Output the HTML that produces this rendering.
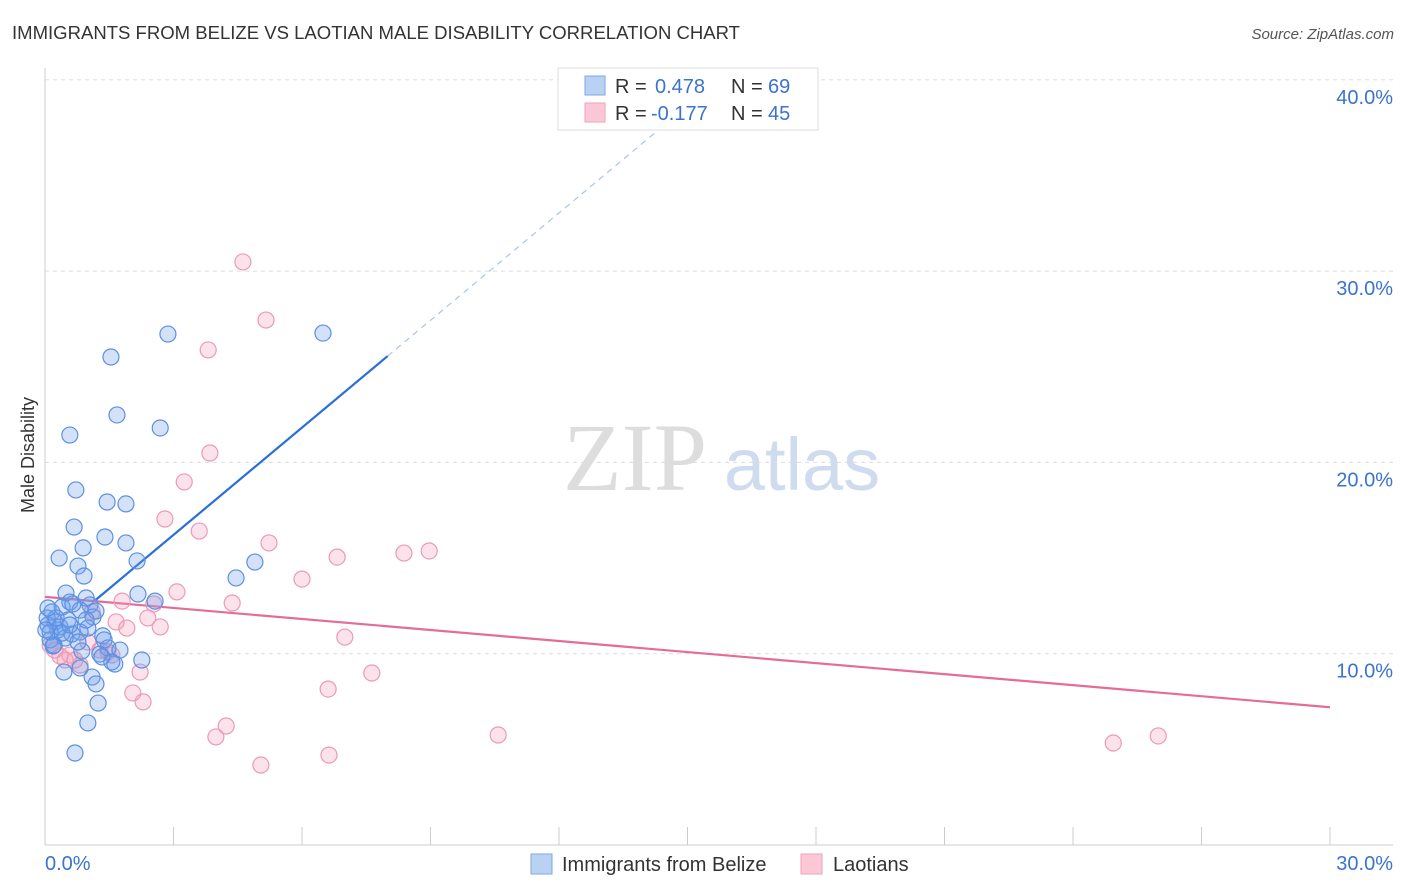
<!DOCTYPE html>
<html><head><meta charset="utf-8"><style>
body{margin:0;background:#fff;font-family:"Liberation Sans",sans-serif;}
svg{display:block}
</style></head><body>
<svg id="chart" width="1406" height="892">
<text x="12" y="39" font-size="18" fill="#333" textLength="728" lengthAdjust="spacingAndGlyphs">IMMIGRANTS FROM BELIZE VS LAOTIAN MALE DISABILITY CORRELATION CHART</text>
<text x="1394" y="39" font-size="15" fill="#555" font-style="italic" text-anchor="end">Source: ZipAtlas.com</text>
<g>
<text x="635" y="490" font-size="96" fill="#ddd" font-family="Liberation Serif,serif" text-anchor="middle">ZIP</text>
<text x="802" y="490" font-size="74" fill="#cfdcf0" text-anchor="middle">atlas</text>
</g>
<g id="grid"></g><g id="axes"></g><g id="lines"></g><g id="pts"></g>
<text transform="translate(34,455) rotate(-90)" font-size="18" fill="#333" text-anchor="middle">Male Disability</text>
<g>
<rect x="558" y="68" width="260" height="62" fill="#fff" stroke="#ddd"/>
<rect x="585" y="76" width="20" height="19" fill="#b9d2f3" stroke="#7ea6e6"/>
<rect x="585" y="103" width="20" height="19" fill="#fcc8d8" stroke="#f0a0bb"/>
<text x="615" y="93" font-size="20" fill="#333">R =</text>
<text x="655" y="93" font-size="20" fill="#3a73d0">0.478</text>
<text x="731" y="93" font-size="20" fill="#333">N =</text>
<text x="768" y="93" font-size="20" fill="#3a73d0">69</text>
<text x="615" y="120" font-size="20" fill="#333">R =</text>
<text x="651" y="120" font-size="20" fill="#3a73d0">-0.177</text>
<text x="731" y="120" font-size="20" fill="#333">N =</text>
<text x="768" y="120" font-size="20" fill="#3a73d0">45</text>
</g>
<g>
<rect x="531" y="854" width="21" height="20" fill="#b9d2f3" stroke="#7ea6e6"/>
<text x="562" y="871" font-size="20" fill="#333">Immigrants from Belize</text>
<rect x="801" y="854" width="21" height="20" fill="#fcc8d8" stroke="#f0a0bb"/>
<text x="833" y="871" font-size="20" fill="#333">Laotians</text>
</g>
</svg>
<script>
const yTicks=[10,20,30,40];
const xTickLabels=["0.0%","30.0%"];
const blueX=[2.87,6.49,1.54,1.68,2.69,0.58,0.72,1.45,1.89,0.68,1.40,1.89,0.89,0.33,2.15,0.77,0.91,4.46,4.90,0.49,2.17,2.57,0.96,0.58,0.40,1.05,0.16,0.82,1.12,0.54,0.23,0.07,0.30,1.00,0.63,0.82,1.35,0.12,0.47,0.21,1.47,1.75,1.28,0.86,2.26,1.63,1.56,0.82,0.44,1.10,1.19,1.24,1.00,0.70,0.05,0.26,1.38,0.35,0.12,0.65,1.19,0.02,0.19,0.40,0.58,0.07,1.33,0.77,0.96];
const blueY=[26.71,26.76,25.51,22.48,21.80,21.43,18.56,17.93,17.83,16.62,16.10,15.79,15.53,15.00,14.85,14.58,14.06,13.96,14.79,13.17,13.12,12.75,12.91,12.70,12.44,12.55,12.18,12.28,11.92,11.76,11.66,11.50,11.24,11.34,11.03,11.13,10.93,10.72,10.82,10.45,10.30,10.19,9.98,10.14,9.67,9.46,9.57,9.25,9.04,8.78,8.42,7.42,6.38,4.81,11.87,11.87,10.72,11.40,11.13,12.60,12.23,11.24,10.40,11.08,11.50,12.39,9.83,10.61,11.76];
const pinkX=[4.62,5.16,3.81,3.85,3.25,2.80,3.60,5.23,6.82,8.38,8.97,6.00,3.08,4.37,1.80,2.54,2.40,2.69,1.91,1.66,7.00,1.10,7.63,2.22,2.05,2.29,6.61,4.23,3.99,5.04,6.63,10.58,24.94,25.99,0.35,0.58,0.82,1.28,1.47,0.23,0.47,1.00,0.12,0.70,1.56];
const pinkY=[30.48,27.44,25.88,20.49,18.98,17.04,16.41,15.79,15.05,15.26,15.37,13.90,13.23,12.65,12.75,12.60,11.87,11.40,11.34,11.66,10.87,12.18,8.99,9.04,7.95,7.48,8.15,6.22,5.65,4.18,4.70,5.75,5.33,5.70,9.88,9.93,9.41,10.19,10.09,10.19,9.67,10.61,10.45,9.67,9.93];
const blueFit=[10.6,1.87];
const pinkFit=[12.97,-0.1923];
const NS="http://www.w3.org/2000/svg";
const X=v=>45+v*(1285/30), Y=v=>845-v*19.13;
function mk(t,a,p){const e=document.createElementNS(NS,t);for(const k in a)e.setAttribute(k,a[k]);p.appendChild(e);return e;}
const grid=document.getElementById('grid'),axes=document.getElementById('axes'),lines=document.getElementById('lines'),pts=document.getElementById('pts');
yTicks.forEach(t=>{
 const l=mk('line',{x1:45,x2:1393,y1:Y(t),y2:Y(t),stroke:'#ddd','stroke-dasharray':'4,4'},grid);
 
 
 const tx=mk('text',{x:1393,y:Y(t)+24,'font-size':20,fill:'#3a73d0','text-anchor':'end'},grid);
 tx.textContent=t.toFixed(1)+'%';
 
 
});
const ya=mk('line',{x1:45,x2:45,y1:68,y2:845,stroke:'#ccc'},axes);


const xa=mk('line',{x1:45,x2:1393,y1:845,y2:845,stroke:'#ccc'},axes);


for(let i=0;i<=10;i++){const tk=mk('line',{x1:X(i*3),x2:X(i*3),y1:827,y2:845,stroke:'#ccc'},axes);
 
 }
const xl0=mk('text',{x:45,y:870,'font-size':20,fill:'#3a73d0'},axes);xl0.textContent=xTickLabels[0];


const xl1=mk('text',{x:1393,y:870,'font-size':20,fill:'#3a73d0','text-anchor':'end'},axes);xl1.textContent=xTickLabels[1];


const bx1=1.17,bx2=8.0,bx3=(40-blueFit[0])/blueFit[1];
const f=x=>blueFit[0]+blueFit[1]*x;
const bl=mk('line',{x1:X(bx1),y1:Y(f(bx1)),x2:X(bx2),y2:Y(f(bx2)),stroke:'#2a6fd8','stroke-width':2.2},lines);


const bd=mk('line',{x1:X(bx2),y1:Y(f(bx2)),x2:X(bx3),y2:Y(40),stroke:'#a8c4ee','stroke-width':1.2,'stroke-dasharray':'6,5'},lines);


const g=x=>pinkFit[0]+pinkFit[1]*x;
const pl=mk('line',{x1:X(0),y1:Y(g(0)),x2:X(30),y2:Y(g(30)),stroke:'#e36c99','stroke-width':2.2},lines);


pinkX.forEach((v,i)=>{const c=mk('circle',{cx:X(v),cy:Y(pinkY[i]),r:8,fill:'rgba(245,160,190,0.3)',stroke:'#eb9ab6','stroke-width':1.2},pts);
 
 });
blueX.forEach((v,i)=>{const c=mk('circle',{cx:X(v),cy:Y(blueY[i]),r:8,fill:'rgba(110,160,235,0.3)',stroke:'#5b90e2','stroke-width':1.2},pts);
 
 });
</script>
</body></html>
